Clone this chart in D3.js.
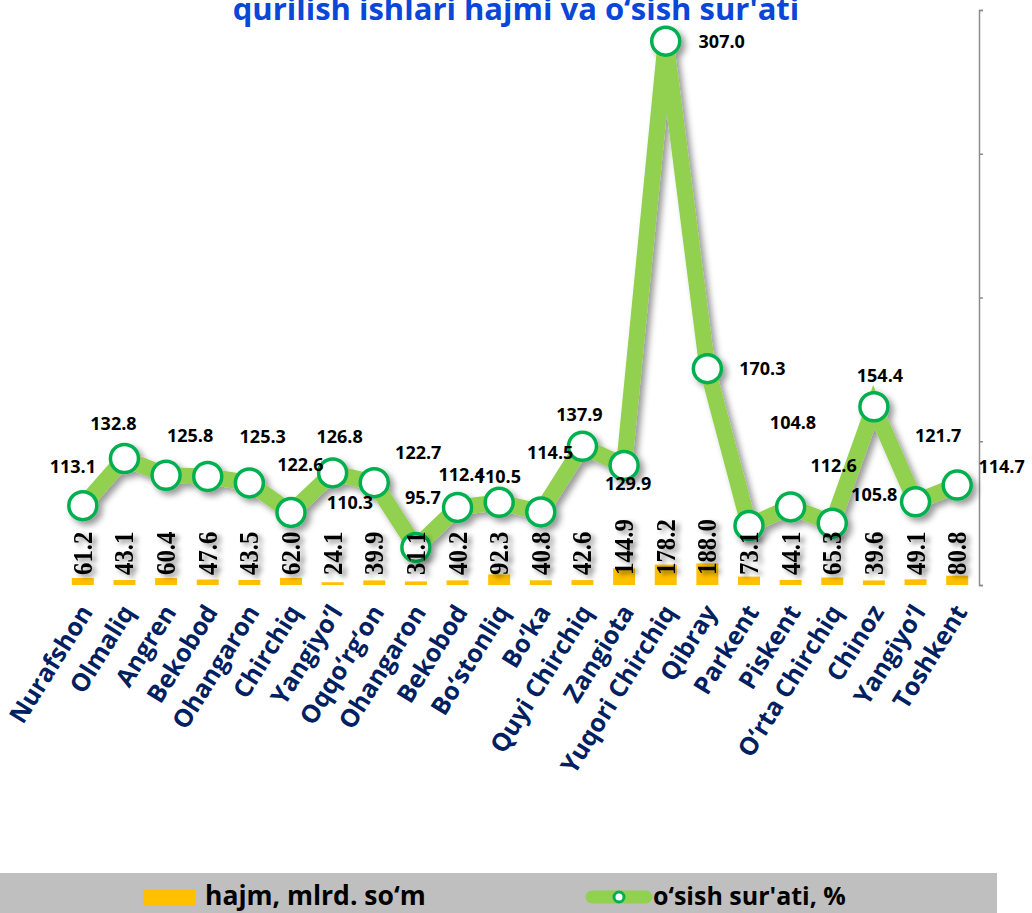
<!DOCTYPE html>
<html><head><meta charset="utf-8">
<script src="https://cdn.jsdelivr.net/npm/d3@7/dist/d3.min.js"></script>
<style>body{margin:0;background:#fff}svg{display:block}</style>
</head><body>
<svg id="chart" width="1032" height="913"></svg>
<script>
const categories = ["Nurafshon","Olmaliq","Angren","Bekobod","Ohangaron","Chirchiq","Yangiyo’l","Oqqo‘rg‘on","Ohangaron","Bekobod","Bo‘stonliq","Bo‘ka","Quyi Chirchiq","Zangiota","Yuqori Chirchiq","Qibray","Parkent","Piskent","O‘rta Chirchiq","Chinoz","Yangiyo’l","Toshkent"];
const volume = [61.2,43.1,60.4,47.6,43.5,62.0,24.1,39.9,31.1,40.2,92.3,40.8,42.6,144.9,178.2,188.0,73.1,44.1,65.3,39.6,49.1,80.8];
const growth = [113.1,132.8,125.8,125.3,122.6,110.3,126.8,122.7,95.7,112.4,114.5,110.5,137.9,129.9,307.0,170.3,104.8,112.6,105.8,154.4,114.7,121.7];
const growthTicks = [80,140,200,260,320];
const volumeDomain = [0,5000];
// label offsets (dx,dy) from marker centre
const growthLabelOffset = [[-10,-39],[-11,-35],[24,-40],[55,-40],[51,-18],[59,-10],[7,-36],[44,-30],[7,-50],[4,-33],[51,-50],[-43,-35],[-3,-32],[4,18],[56,1],[55,0],[44,-103],[43,-41],[42,-28],[6,-31],[86,-35],[-19,-49]];
const title = "qurilish ishlari hajmi va o‘sish sur'ati";
const legendLabels = ["hajm, mlrd. so‘m","o‘sish sur'ati, %"];

const svg = d3.select("#chart");
const defs = svg.append("defs");
const f1 = defs.append("filter").attr("id","shadow").attr("x","-20%").attr("y","-20%").attr("width","140%").attr("height","140%");
f1.append("feDropShadow").attr("dx",4).attr("dy",4).attr("stdDeviation",3).attr("flood-color","#000").attr("flood-opacity",0.4);
const f2 = defs.append("filter").attr("id","tshadow").attr("x","-50%").attr("y","-50%").attr("width","200%").attr("height","200%");
f2.append("feDropShadow").attr("dx",4).attr("dy",3).attr("stdDeviation",2.5).attr("flood-color","#000").attr("flood-opacity",0.45);

const L=62, R=978, T=10, B=585;
const idx = categories.map((d,i)=>i);
const x = d3.scaleBand().domain(idx).range([L,R]).paddingInner(0.472).paddingOuter(0.236);
const yBar = d3.scaleLinear().domain(volumeDomain).range([B,T]);
const yLine = d3.scaleLinear().domain([growthTicks[0],growthTicks[growthTicks.length-1]]).range([B,T]);
const cx = i => x(i)+x.bandwidth()/2;

// title
svg.append("text").attr("x",516).attr("y",20).attr("text-anchor","middle")
  .attr("font-family","Open Sans").attr("font-weight","bold").attr("font-size",31)
  .attr("fill","#0a46d8").text(title);

// right axis
const ax = svg.append("g").attr("transform",`translate(${R+1},0)`)
  .call(d3.axisRight(yLine).tickValues(growthTicks).tickSize(4).tickSizeOuter(4).tickFormat(""));
ax.selectAll("path,line").attr("stroke","#8c8c8c").attr("stroke-width",1.5);

// bars
svg.append("g").selectAll("rect").data(volume).join("rect")
  .attr("x",(d,i)=>x(i)).attr("width",x.bandwidth())
  .attr("y",d=>yBar(d)).attr("height",d=>B-yBar(d)).attr("fill","#FFC000");

// line
const line = d3.line().x((d,i)=>cx(i)).y(d=>yLine(d));
const lg = svg.append("g").attr("filter","url(#shadow)");
lg.append("path").datum(growth).attr("d",line).attr("fill","none")
  .attr("stroke","#92D050").attr("stroke-width",16).attr("stroke-linejoin","miter").attr("stroke-miterlimit",3);
lg.selectAll("circle").data(growth).join("circle")
  .attr("cx",(d,i)=>cx(i)).attr("cy",d=>yLine(d)).attr("r",14)
  .attr("fill","#fff").attr("stroke","#00B050").attr("stroke-width",3.5);

// bar labels (drawn over the line, as in the reference)
svg.append("g").attr("filter","url(#tshadow)").selectAll("text").data(volume).join("text")
  .attr("transform",(d,i)=>`translate(${cx(i)+9},575) rotate(-90) scale(0.92,1)`)
  .attr("font-family","Liberation Serif").attr("font-weight","bold").attr("font-size",27)
  .attr("fill","#000").text(d=>d.toFixed(1));

// growth labels
svg.append("g").selectAll("text").data(growth).join("text")
  .attr("x",(d,i)=>cx(i)+growthLabelOffset[i][0]).attr("y",(d,i)=>yLine(d)+growthLabelOffset[i][1])
  .attr("dy","0.35em").attr("text-anchor","middle")
  .attr("font-family","Open Sans").attr("font-weight","bold").attr("font-size",18)
  .attr("fill","#000").text(d=>d.toFixed(1));

// category labels
svg.append("g").selectAll("text").data(categories).join("text")
  .attr("transform",(d,i)=>`translate(${cx(i)+11},612) rotate(-58)`)
  .attr("text-anchor","end")
  .attr("font-family","Open Sans").attr("font-weight","bold").attr("font-size",25)
  .attr("fill","#002060").text(d=>d);

// legend
svg.append("rect").attr("x",0).attr("y",873).attr("width",997).attr("height",40).attr("fill","#bfbfbf");
svg.append("rect").attr("x",143).attr("y",889).attr("width",53).attr("height",17).attr("fill","#FFC000");
svg.append("text").attr("x",205).attr("y",905).attr("font-family","Open Sans").attr("font-weight","bold")
  .attr("font-size",26.5).attr("fill","#000").text(legendLabels[0]);
svg.append("line").attr("x1",592).attr("x2",646).attr("y1",897).attr("y2",897)
  .attr("stroke","#92D050").attr("stroke-width",13).attr("stroke-linecap","round");
svg.append("circle").attr("cx",619).attr("cy",897).attr("r",5).attr("fill","#fff").attr("stroke","#00B050").attr("stroke-width",3);
svg.append("text").attr("x",653).attr("y",905).attr("font-family","Open Sans").attr("font-weight","bold")
  .attr("font-size",25).attr("fill","#000").text(legendLabels[1]);
</script>
</body></html>
